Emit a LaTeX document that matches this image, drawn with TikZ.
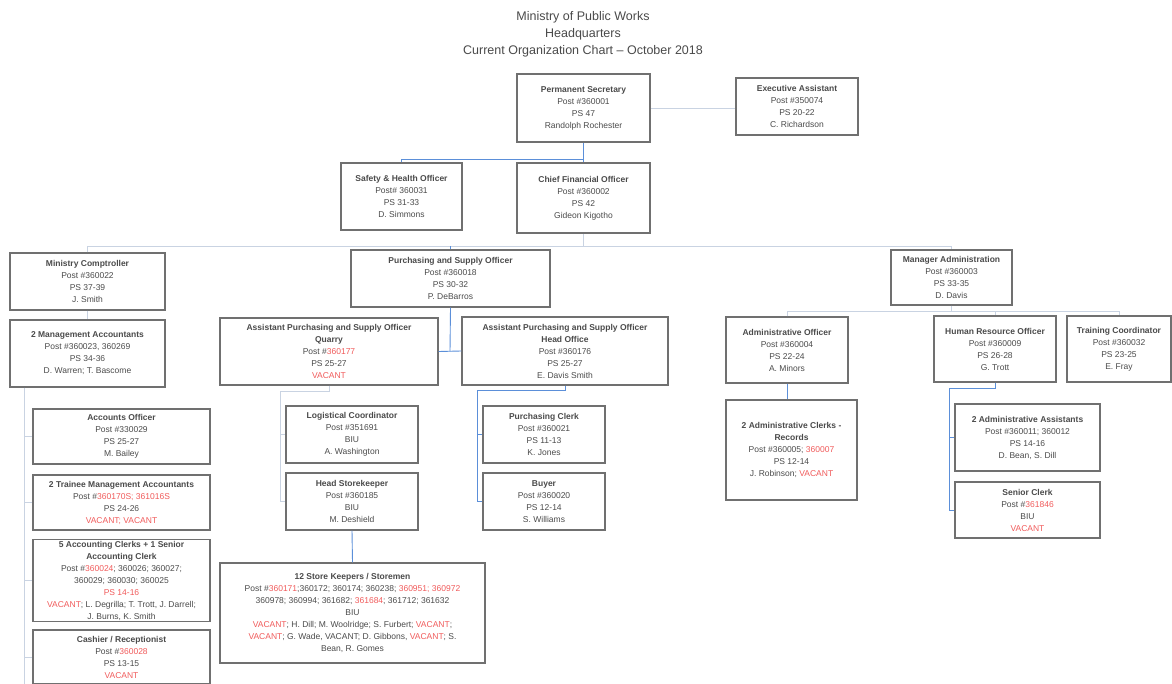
\documentclass[tikz,border=0pt]{standalone}
\usepackage{fontspec}
\setmainfont{Liberation Sans}
\usetikzlibrary{positioning,calc}

\definecolor{boxgray}{HTML}{707070}
\definecolor{textgray}{HTML}{4A4A4A}
\definecolor{vacred}{HTML}{F05A5A}
\definecolor{linkblue}{HTML}{5B8FD9}
\definecolor{faintline}{HTML}{C9D3E2}

\newcommand{\redtxt}[1]{\textcolor{vacred}{#1}}

\tikzset{
	post/.style={draw=boxgray, line width=1.2pt, text=textgray, align=center,
		inner sep=1pt, font=\fontsize{8.5}{12}\selectfont},
	headpost/.style={post, line width=2.4pt},
	link/.style={draw=linkblue, line width=.9pt},
	faint/.style={draw=faintline, line width=.9pt}
}

\begin{document}
\begin{tikzpicture}[x=1pt, y=-1pt]

		\useasboundingbox (0,0) rectangle (1172,684);

		% title
		\node[text=textgray, align=center, font=\fontsize{12.5}{17}\selectfont] (title) at (583,34)
			{Ministry of Public Works\\ Headquarters\\ Current Organization Chart -- October 2018};

		% top level
		\node[headpost, minimum width=133, minimum height=68] (ps) at (583.5,108)
			{\textbf{Permanent Secretary}\\ Post \#360001\\ PS 47\\ Randolph Rochester};
		\node[post, minimum width=122, minimum height=57] (ea) at (797,106.5)
			{\textbf{Executive Assistant}\\ Post \#350074\\ PS 20-22\\ C. Richardson};
		\node[post, minimum width=121, minimum height=67] (sho) at (401.5,196.5)
			{\textbf{Safety \& Health Officer}\\ Post\# 360031\\ PS 31-33\\ D. Simmons};
		\node[headpost, minimum width=133, minimum height=70] (cfo) at (583.5,198)
			{\textbf{Chief Financial Officer}\\ Post \#360002\\ PS 42\\ Gideon Kigotho};

		% second level
		\node[post, minimum width=155, minimum height=57] (mc) at (87.5,281.5)
			{\textbf{Ministry Comptroller}\\ Post \#360022\\ PS 37-39\\ J. Smith};
		\node[post, minimum width=155, minimum height=67] (mga) at (87.5,353.5)
			{\textbf{2 Management Accountants}\\ Post \#360023, 360269\\ PS 34-36\\ D. Warren; T. Bascome};
		\node[post, minimum width=199, minimum height=57] (pso) at (450.5,278.5)
			{\textbf{Purchasing and Supply Officer}\\ Post \#360018\\ PS 30-32\\ P. DeBarros};
		\node[post, minimum width=121, minimum height=55] (ma) at (951.5,277.5)
			{\textbf{Manager Administration}\\ Post \#360003\\ PS 33-35\\ D. Davis};

		% purchasing
		\node[post, minimum width=218, minimum height=67] (apq) at (329,351.5)
			{\textbf{Assistant Purchasing and Supply Officer}\\ \textbf{Quarry}\\ Post \#\redtxt{360177}\\ PS 25-27\\ \redtxt{VACANT}};
		\node[post, minimum width=206, minimum height=68] (aph) at (565,351)
			{\textbf{Assistant Purchasing and Supply Officer}\\ \textbf{Head Office}\\ Post \#360176\\ PS 25-27\\ E. Davis Smith};
		\node[post, minimum width=132, minimum height=57] (lc) at (352,434.5)
			{\textbf{Logistical Coordinator}\\ Post \#351691\\ BIU\\ A. Washington};
		\node[post, minimum width=132, minimum height=57] (hs) at (352,501.5)
			{\textbf{Head Storekeeper}\\ Post \#360185\\ BIU\\ M. Deshield};
		\node[post, minimum width=265, minimum height=100] (sk) at (352.5,613)
			{\textbf{12 Store Keepers / Storemen}\\
			Post \#\redtxt{360171};360172; 360174; 360238; \redtxt{360951; 360972}\\
			360978; 360994; 361682; \redtxt{361684}; 361712; 361632\\
			BIU\\
			\redtxt{VACANT}; H. Dill; M. Woolridge; S. Furbert; \redtxt{VACANT};\\
			\redtxt{VACANT}; G. Wade, VACANT; D. Gibbons, \redtxt{VACANT}; S.\\
			Bean, R. Gomes};
		\node[post, minimum width=122, minimum height=57] (pc) at (544,434.5)
			{\textbf{Purchasing Clerk}\\ Post \#360021\\ PS 11-13\\ K. Jones};
		\node[post, minimum width=122, minimum height=57] (by) at (544,501.5)
			{\textbf{Buyer}\\ Post \#360020\\ PS 12-14\\ S. Williams};

		% accounts
		\node[post, minimum width=177, minimum height=55] (aco) at (121.5,436.5)
			{\textbf{Accounts Officer}\\ Post \#330029\\ PS 25-27\\ M. Bailey};
		\node[post, minimum width=177, minimum height=55] (tma) at (121.5,502.5)
			{\textbf{2 Trainee Management Accountants}\\ Post \#\redtxt{360170S; 361016S}\\ PS 24-26\\ \redtxt{VACANT; VACANT}};
		\node[post, minimum width=177, minimum height=79] (acl) at (121.5,580.5)
			{\textbf{5 Accounting Clerks + 1 Senior}\\ \textbf{Accounting Clerk}\\
			Post \#\redtxt{360024}; 360026; 360027;\\ 360029; 360030; 360025\\
			\redtxt{PS 14-16}\\ \redtxt{VACANT}; L. Degrilla; T. Trott, J. Darrell;\\ J. Burns, K. Smith};
		\node[post, minimum width=177, minimum height=54] (cr) at (121.5,657)
			{\textbf{Cashier / Receptionist}\\ Post \#\redtxt{360028}\\ PS 13-15\\ \redtxt{VACANT}};

		% administration
		\node[post, minimum width=122, minimum height=66] (ao) at (787,350)
			{\textbf{Administrative Officer}\\ Post \#360004\\ PS 22-24\\ A. Minors};
		\node[post, minimum width=122, minimum height=66] (hro) at (995,349)
			{\textbf{Human Resource Officer}\\ Post \#360009\\ PS 26-28\\ G. Trott};
		\node[post, minimum width=104, minimum height=66] (tc) at (1119,349)
			{\textbf{Training Coordinator}\\ Post \#360032\\ PS 23-25\\ E. Fray};
		\node[post, minimum width=131, minimum height=100] (acr) at (791.5,450)
			{\textbf{2 Administrative Clerks -}\\ \textbf{Records}\\ Post \#360005; \redtxt{360007}\\ PS 12-14\\ J. Robinson; \redtxt{VACANT}};
		\node[post, minimum width=145, minimum height=67] (aas) at (1027.5,437.5)
			{\textbf{2 Administrative Assistants}\\ Post \#360011; 360012\\ PS 14-16\\ D. Bean, S. Dill};
		\node[post, minimum width=145, minimum height=56] (sc) at (1027.5,510)
			{\textbf{Senior Clerk}\\ Post \#\redtxt{361846}\\ BIU\\ \redtxt{VACANT}};

		% connectors
		\draw[faint] (ps.east) -- (ps.east -| ea.west);
		\draw[link] (ps.south) -- (cfo.north);
		\draw[link] (ps.south) ++(0,16) coordinate (psj) -| (sho.north);

		\draw[faint] (cfo.south) -- ++(0,12) coordinate (trunk);
		\draw[faint] (mc.north) |- (trunk) -| (ma.north);
		\draw[link] (trunk -| pso.north) -- (pso.north);

		\draw[link] (apq.east) -- (aph.west);
		\draw[link] (pso.south) -- ($(apq.east)!.5!(aph.west)$);

		\draw[faint] (apq.south) -- ++(0,6) -| ([xshift=-5pt]hs.west) -- (hs.west);
		\draw[faint] ([xshift=-5pt]lc.west) -- (lc.west);
		\draw[link] (hs.south) -- (sk.north);

		\draw[link] (aph.south) -- ++(0,5) -| ([xshift=-5pt]by.west) -- (by.west);
		\draw[link] ([xshift=-5pt]pc.west) -- (pc.west);

		\draw[faint] (mc.south) -- (mga.north);
		\coordinate (acctrail) at ([xshift=15pt]mga.south west);
		\draw[faint] (acctrail) -- (acctrail |- cr.south);
		\foreach \n in {aco,tma,acl,cr}
			\draw[faint] (acctrail |- \n.west) -- (\n.west);

		\draw[faint] (ma.south) -- ++(0,6) coordinate (admj);
		\draw[faint] (ao.north) |- (admj) -| (tc.north);
		\draw[faint] (admj -| hro.north) -- (hro.north);
		\draw[link] (ao.south) -- (ao.south |- acr.north);

		\draw[link] (hro.south) -- ++(0,6) -| ([xshift=-5pt]sc.west) -- (sc.west);
		\draw[link] ([xshift=-5pt]aas.west) -- (aas.west);

	\end{tikzpicture}
\end{document}
